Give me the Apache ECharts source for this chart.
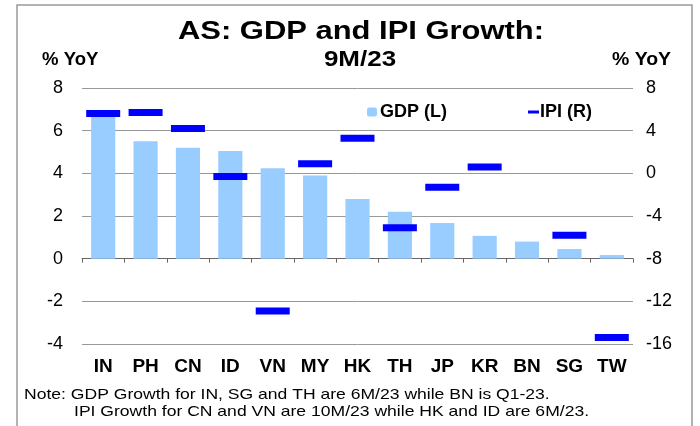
<!DOCTYPE html>
<html>
<head>
<meta charset="utf-8">
<script src="https://cdn.jsdelivr.net/npm/echarts@6/dist/echarts.min.js"></script>
<style>
  html, body { margin: 0; padding: 0; background: #fff; }
  #chart { width: 700px; height: 426px; }
</style>
</head>
<body>
<div id="chart"></div>
<script>
// chart data
const countries = ['IN', 'PH', 'CN', 'ID', 'VN', 'MY', 'HK', 'TH', 'JP', 'KR', 'BN', 'SG', 'TW'];
const gdpGrowth = [6.7, 5.5, 5.2, 5.05, 4.24, 3.9, 2.8, 2.2, 1.67, 1.07, 0.8, 0.45, 0.17];
const ipiGrowth = [5.6, 5.7, 4.2, -0.3, -12.9, 0.9, 3.3, -5.1, -1.3, 0.6, null, -5.8, -15.4];
const leftTicks = [-4, 8, 2];   // min, max, interval
const rightTicks = [-16, 8, 4];
const noteLines = [
    'Note: GDP Growth for IN, SG and TH are 6M/23 while BN is Q1-23.',
    'IPI Growth for CN and VN are 10M/23 while HK and ID are 6M/23.'
];

const font = 'Liberation Sans, Arial, sans-serif';
const chart = echarts.init(document.getElementById('chart'));

// text in the reference is a little wider than Arial, so stretch it
function label(text, x, y, size, bold, align, sx) {
    return {
        type: 'text', x: x, y: y, scaleX: sx || 1, silent: true,
        style: { text: text, font: (bold ? 'bold ' : '') + size + 'px ' + font,
                 fill: '#000', align: align, verticalAlign: 'middle' }
    };
}

chart.setOption({
    animation: false,
    legend: [
        { data: ['GDP (L)'], left: 362, top: 98, itemWidth: 10, itemHeight: 9, itemGap: 4,
          textStyle: { fontFamily: font, fontSize: 18, fontWeight: 'bold', color: '#000', padding: [0, 0, 0, -2] } },
        { data: ['IPI (R)'], left: 523, top: 98, itemWidth: 11, itemHeight: 3,
          textStyle: { fontFamily: font, fontSize: 18, fontWeight: 'bold', color: '#000', padding: [0, 0, 0, -4] } }
    ],
    grid: { left: 82, right: 67, top: 88, bottom: 82 },
    xAxis: [
        {
            type: 'category', data: countries,
            axisLine: { onZero: true, lineStyle: { color: '#666', width: 1 } },
            axisTick: { show: true, length: 4, lineStyle: { color: '#666' } },
            axisLabel: { show: false }
        },
        {
            type: 'category', data: countries, position: 'bottom',
            axisLine: { show: false, onZero: false },
            axisTick: { show: false },
            axisLabel: { margin: 13, fontFamily: font, fontSize: 19, fontWeight: 'bold', color: '#000' }
        }
    ],
    yAxis: [
        {
            type: 'value', min: leftTicks[0], max: leftTicks[1], interval: leftTicks[2],
            axisLine: { show: false }, axisTick: { show: false },
            axisLabel: { margin: 19, fontFamily: font, fontSize: 18, color: '#000' },
            splitLine: { lineStyle: { color: '#999', width: 1 } }
        },
        {
            type: 'value', min: rightTicks[0], max: rightTicks[1], interval: rightTicks[2],
            axisLine: { show: false }, axisTick: { show: false },
            axisLabel: { margin: 13, fontFamily: font, fontSize: 18, color: '#000' },
            splitLine: { show: false }
        }
    ],
    series: [
        {
            name: 'GDP (L)', type: 'bar', data: gdpGrowth,
            xAxisIndex: 0, yAxisIndex: 0, barWidth: '57%',
            itemStyle: { color: '#99CCFF' }, z: 2
        },
        {
            name: 'IPI (R)', type: 'scatter', data: ipiGrowth,
            xAxisIndex: 0, yAxisIndex: 1,
            symbol: 'rect', symbolSize: [34, 7],
            itemStyle: { color: '#0000FF', opacity: 1 }, z: 3
        }
    ],
    graphic: [
        { type: 'rect', shape: { x: 17, y: 5, width: 675, height: 440 },
          style: { fill: 'none', stroke: '#9a9a9a', lineWidth: 1.5 }, silent: true },
        label('AS: GDP and IPI Growth:', 361, 32, 26, true, 'center', 1.19),
        label('9M/23', 360, 60, 22, true, 'center', 1.18),
        label('% YoY', 42, 60, 18, true, 'left', 1.03),
        label('% YoY', 612, 60, 18, true, 'left', 1.08),
        label(noteLines[0], 24, 395, 15, false, 'left', 1.17),
        label(noteLines[1], 74, 412, 15, false, 'left', 1.17)
    ]
});
</script>
</body>
</html>
